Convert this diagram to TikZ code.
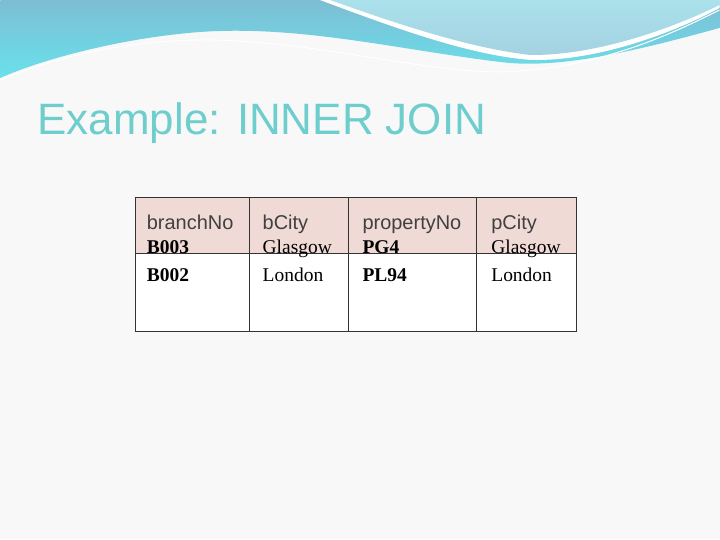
\documentclass[tikz,border=0pt]{standalone}
\usepackage{fontspec}
\setmainfont{Liberation Serif}
\setsansfont{Liberation Sans}
\usepackage{xcolor}
\usetikzlibrary{positioning}

\definecolor{pageBg}{RGB}{248,248,248}
\definecolor{waveDark}{RGB}{125,190,212}
\definecolor{waveLight}{RGB}{105,225,235}
\definecolor{capTop}{RGB}{170,225,235}
\definecolor{titleTeal}{RGB}{110,205,205}
\definecolor{headFill}{RGB}{240,218,214}

\begin{document}
\begin{tikzpicture}[x=1pt,y=-1pt,
	headcell/.style={font=\sffamily\fontsize{20}{24}\selectfont, color=black!75, anchor=base west},
	bodycell/.style={font=\fontsize{19.5}{28}\selectfont, anchor=base west, align=left}
]

\fill[pageBg] (0,0) rectangle (720,540);

% ---

\shade[top color=waveDark, bottom color=waveLight]
	(0,0) -- (720,0) -- (720,28)
	.. controls (640,50) and (560,70) .. (500,62)
	.. controls (400,50) and (300,25) .. (200,32)
	.. controls (120,38) and (40,60) .. (0,78) -- cycle;
\fill[white]
	(320,0) .. controls (400,30) and (470,55) .. (530,60)
	.. controls (600,62) and (680,30) .. (720,8) -- (720,0) -- cycle;
\shade[top color=capTop, bottom color=waveDark!70]
	(330,0) .. controls (400,25) and (470,48) .. (530,55)
	.. controls (600,56) and (680,25) .. (720,5) -- (720,0) -- cycle;
\draw[white, line width=1pt]
	(0,80) .. controls (60,55) and (130,40) .. (210,40)
	.. controls (320,42) and (420,72) .. (500,72)
	.. controls (600,70) and (680,30) .. (720,10);

% ---

\node[anchor=base west, inner sep=0pt, text=titleTeal,
	font=\sffamily\fontsize{44}{48}\selectfont] (title) at (37,135) {Example: INNER JOIN};

\fill[headFill] (135,198) rectangle (577,254);
\fill[white] (135,254) rectangle (577,332);
\draw[black!80, line width=0.7pt] (135,198) rectangle (577,332);
\draw[black!80, line width=0.7pt] (135,254) -- (577,254);
\foreach \xc in {249,348,477}
	\draw[black!80, line width=0.7pt] (\xc,198) -- (\xc,332);

\node[headcell] (hBranch) at (143,230) {branchNo};
\node[headcell] (hBCity) at (259,230) {bCity};
\node[headcell] (hProp) at (359,230) {propertyNo};
\node[headcell] (hPCity) at (488,230) {pCity};

\node[bodycell] (cBranch) at (143,282) {\textbf{B003}\\\textbf{B002}};
\node[bodycell] (cBCity) at (259,282) {Glasgow\\London};
\node[bodycell] (cProp) at (359,282) {\textbf{PG4}\\\textbf{PL94}};
\node[bodycell] (cPCity) at (488,282) {Glasgow\\London};

\end{tikzpicture}
\end{document}
